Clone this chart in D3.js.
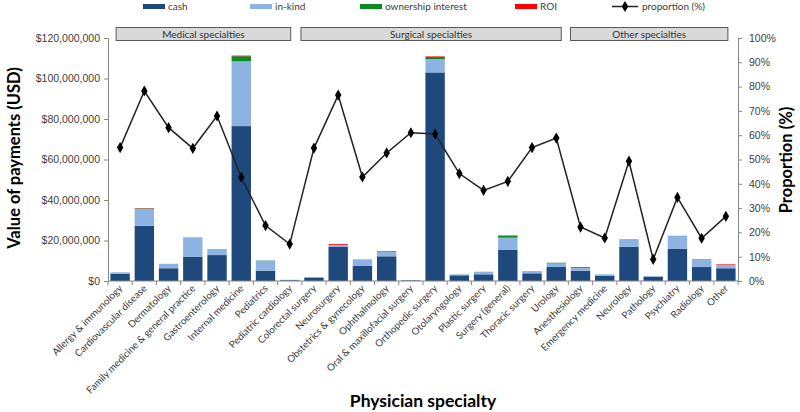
<!DOCTYPE html>
<html><head><meta charset="utf-8">
<script src="https://cdn.jsdelivr.net/npm/d3@7/dist/d3.min.js"></script>
<style>body{margin:0;background:#fff}svg{display:block;font-family:Lato,"Open Sans",sans-serif}</style>
</head><body><svg id="c" width="800" height="412"></svg>
<script>
const categories = ["Allergy & immunology","Cardiovascular disease","Dermatology","Family medicine & general practice","Gastroenterology","Internal medicine","Pediatrics","Pediatric cardiology","Colorectal surgery","Neurosurgery","Obstetrics & gynecology","Ophthalmology","Oral & maxillofacial surgery","Orthopedic surgery","Otolaryngology","Plastic surgery","Surgery (general)","Thoracic surgery","Urology","Anesthesiology","Emergency medicine","Neurology","Pathology","Psychiatry","Radiology","Other"];
// values in millions of USD
const cash      = [3.5,27.3,6.3,11.9,12.8,76.5,5.1,0.4,1.7,16.8,7.4,12.2,0.3,103.0,2.8,3.3,15.5,3.8,6.9,5.1,2.6,16.9,2.1,16.0,6.9,6.3];
const inKind    = [0.8,8.4,2.2,9.7,3.0,32.0,5.0,0.2,0.3,1.0,3.3,2.2,0.1,6.6,0.5,1.3,5.9,1.1,1.8,1.3,0.7,3.8,0.3,6.4,3.6,1.6];
const ownership = [0,0.2,0,0,0,2.5,0.1,0,0,0,0,0,0,1.0,0,0,1.0,0,0.3,0.4,0,0,0,0,0,0];
const roi       = [0,0.15,0,0,0,0.3,0,0,0,0.4,0,0.3,0,0.3,0,0,0.1,0,0,0,0,0,0,0,0.2,0.3];
const proportion = [54.9,78.2,63.1,54.6,67.9,42.7,22.8,15.2,54.7,76.5,42.8,52.7,61.0,60.5,44.2,37.3,41.0,54.9,58.8,22.2,17.7,49.3,8.9,34.4,17.6,26.6];
const groups = ["Medical specialties","Surgical specialties","Other specialties"];
const groupFirst = [0,8,19];
const groupLast = [7,18,25];
const leftTicks = [0,20,40,60,80,100,120];
const leftTickLabels = ["$0","$20,000,000","$40,000,000","$60,000,000","$80,000,000","$100,000,000","$120,000,000"];
const rightTicks = [0,10,20,30,40,50,60,70,80,90,100];
const rightTickLabels = rightTicks.map(d=>d+"%");
const seriesNames = ["cash","in-kind","ownership interest","ROI"];
const seriesColors = ["#1F497D","#8DB3E2","#0A8A1F","#FF0000"];

const svg = d3.select("#c");
const L=108, R=738, T=38, B=281;
const x = d3.scaleBand().domain(categories).range([L,R]).paddingInner(0.2).paddingOuter(0.1);
const y = d3.scaleLinear().domain([0,120]).range([B,T]);
const y2 = d3.scaleLinear().domain([0,100]).range([B,T]);
const axisCol="#868686", textCol="#404040";

// stacked bars
const rows = categories.map((c,i)=>({cat:c,cash:cash[i],inkind:inKind[i],own:ownership[i],roi:roi[i]}));
const stack = d3.stack().keys(["cash","inkind","own","roi"])(rows);
svg.append("g").selectAll("g").data(stack).join("g").attr("fill",(d,i)=>seriesColors[i])
 .selectAll("rect").data(d=>d).join("rect")
 .attr("x",d=>x(d.data.cat)).attr("width",x.bandwidth())
 .attr("y",d=>y(d[1])).attr("height",d=>Math.max(0,y(d[0])-y(d[1])));

// axes
const gl = svg.append("g").attr("transform",`translate(${L},0)`)
 .call(d3.axisLeft(y).tickValues(leftTicks).tickFormat((d,i)=>leftTickLabels[i]).tickSize(4).tickPadding(4));
const gr = svg.append("g").attr("transform",`translate(${R},0)`)
 .call(d3.axisRight(y2).tickValues(rightTicks).tickFormat((d,i)=>rightTickLabels[i]).tickSize(4).tickPadding(7));
[gl,gr].forEach(g=>{g.selectAll("path,line").attr("stroke",axisCol);
 g.selectAll("text").attr("fill",textCol).style("font-size","10.5px");});
gr.selectAll("text").attr("text-anchor","start");

// x axis
const step = x.step(), half = step*x.paddingInner()/2;
const gx = svg.append("g").attr("transform",`translate(0,${B})`)
 .call(d3.axisBottom(x).tickSize(0).tickPadding(0).tickFormat(""));
gx.select("path").attr("stroke",axisCol).attr("d",`M${L},0H${R}`);
const bounds = categories.map(c=>x(c)-half).concat([x(categories[categories.length-1])+x.bandwidth()+half]);
svg.append("g").selectAll("line").data(bounds).join("line")
 .attr("x1",d=>d).attr("x2",d=>d).attr("y1",B).attr("y2",B+4).attr("stroke",axisCol);
svg.append("g").selectAll("text").data(categories).join("text")
 .attr("transform",d=>`translate(${x(d)+x.bandwidth()/2+3},${B+8}) rotate(-45)`)
 .attr("text-anchor","end").attr("fill",textCol).style("font-size","9.8px").text(d=>d);

// proportion line
const lineGen = d3.line().x((d,i)=>x(categories[i])+x.bandwidth()/2).y(d=>y2(d));
svg.append("path").datum(proportion).attr("d",lineGen).attr("fill","none").attr("stroke","#222").attr("stroke-width",1.5);
const diamond = d3.symbol().type(d3.symbolDiamond).size(36);
svg.append("g").selectAll("path").data(proportion).join("path")
 .attr("d",diamond).attr("fill","#000")
 .attr("transform",(d,i)=>`translate(${x(categories[i])+x.bandwidth()/2},${y2(d)})`);

// group header boxes
const gInset = [[-4,1],[-13,5],[-10,2]];
groups.forEach((g,i)=>{
 const x0 = x(categories[groupFirst[i]])+x.bandwidth()/2+gInset[i][0];
 const x1 = x(categories[groupLast[i]])+x.bandwidth()/2+gInset[i][1];
 svg.append("rect").attr("x",x0).attr("y",27.5).attr("width",x1-x0).attr("height",13)
  .attr("fill","#D9D9D9").attr("stroke","#595959").attr("stroke-width",1);
 svg.append("text").attr("x",(x0+x1)/2).attr("y",37.5).attr("text-anchor","middle")
  .attr("fill","#333").style("font-size","10px").text(g);
});

// legend
const legX = [143,250,360,515];
seriesNames.forEach((n,i)=>{
 svg.append("rect").attr("x",legX[i]).attr("y",4).attr("width",22).attr("height",5).attr("fill",seriesColors[i]);
 svg.append("text").attr("x",legX[i]+25).attr("y",10).attr("fill",textCol).style("font-size","10px").text(n);
});
svg.append("line").attr("x1",612).attr("x2",638).attr("y1",6.5).attr("y2",6.5).attr("stroke","#222").attr("stroke-width",1.5);
svg.append("path").attr("d",diamond).attr("fill","#000").attr("transform","translate(625,6.5)");
svg.append("text").attr("x",642).attr("y",10).attr("fill",textCol).style("font-size","10px").text("proportion (%)");

// titles
svg.append("text").attr("transform","translate(20,158) rotate(-90)").attr("text-anchor","middle")
 .style("font-size","16.5px").style("font-weight","bold").attr("fill","#000").text("Value of payments (USD)");
svg.append("text").attr("transform","translate(792,160) rotate(-90)").attr("text-anchor","middle")
 .style("font-size","16.5px").style("font-weight","bold").attr("fill","#000").text("Proportion (%)");
svg.append("text").attr("x",423).attr("y",407).attr("text-anchor","middle")
 .style("font-size","17.5px").style("font-weight","bold").attr("fill","#000").text("Physician specialty");
</script></body></html>
